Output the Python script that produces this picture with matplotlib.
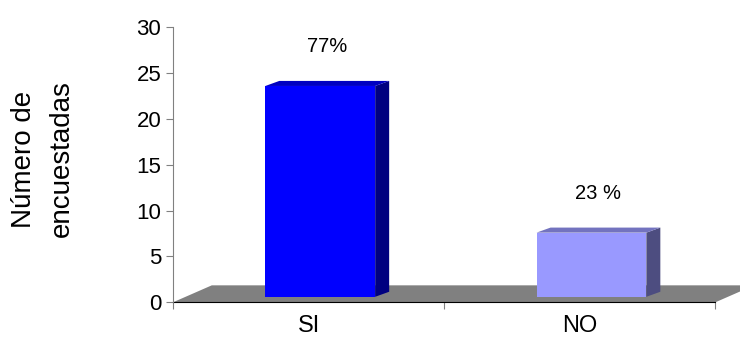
import matplotlib
matplotlib.use('Agg')
from matplotlib import pyplot as plt
from matplotlib.patches import Polygon

categorias = ['SI', 'NO']
encuestadas = [23, 7]
porcentajes = ['77%', '23 %']
frente = ['#0000ff', '#9999ff']
lado = ['#000080', '#4d4d80']
tapa = ['#0000c0', '#7373bf']

plt.rcParams['font.family'] = ['Liberation Sans', 'DejaVu Sans']

fig = plt.figure(figsize=(7.4, 3.4), dpi=100)
ax = fig.add_axes([0.2338, 0.1109, 0.7329, 0.8088])
ax.set_xlim(-0.5, 1.5)
ax.set_ylim(0, 30)

# 3d look: depth offsets in data units
fdx, fdy = 0.143, 1.85      # floor
bdx, bdy = 0.0516, 0.55     # bar side
ancho = 0.405
base = 0.6
desp = 0.043

piso = Polygon([(-0.5, 0), (1.5, 0), (1.5 + fdx, fdy), (-0.5 + fdx, fdy)],
               closed=True, facecolor='#808080', edgecolor='none',
               clip_on=False, zorder=1)
ax.add_patch(piso)

for i, v in enumerate(encuestadas):
    x0 = i + desp - ancho / 2
    x1 = x0 + ancho
    ax.bar(x0, v, width=ancho, bottom=base, align='edge', color=frente[i],
           zorder=3)
    ax.add_patch(Polygon([(x1, base), (x1 + bdx, base + bdy),
                          (x1 + bdx, base + v + bdy), (x1, base + v)],
                         closed=True, facecolor=lado[i], edgecolor='none',
                         zorder=3))
    ax.add_patch(Polygon([(x0, base + v), (x1, base + v),
                          (x1 + bdx, base + v + bdy), (x0 + bdx, base + v + bdy)],
                         closed=True, facecolor=tapa[i], edgecolor='none',
                         zorder=3))
    ax.text(i + desp + bdx / 2, v + 4.9, porcentajes[i], ha='center',
            va='center', fontsize=14.5)

ax.spines['top'].set_visible(False)
ax.spines['right'].set_visible(False)
ax.spines['left'].set_color('#808080')
ax.spines['bottom'].set_color('black')
ax.spines['bottom'].set_zorder(2)

ax.set_yticks(range(0, 31, 5))
ax.tick_params(axis='y', direction='out', length=5, color='#808080',
               labelsize=16, pad=3.5)
ax.set_xticks([-0.5, 0.5, 1.5])
ax.set_xticklabels([])
ax.set_xticks([0, 1], minor=True)
ax.set_xticklabels(categorias, minor=True, fontsize=17)
ax.tick_params(axis='x', which='major', direction='out', length=5,
               color='#808080')
ax.tick_params(axis='x', which='minor', length=0, pad=9.5)

fig.text(43 / 740, 1 - 159 / 340, 'Número de\nencuestadas', rotation=90,
         ha='center', va='center', fontsize=20, linespacing=1.6)

fig.savefig('out.png', dpi=100)
